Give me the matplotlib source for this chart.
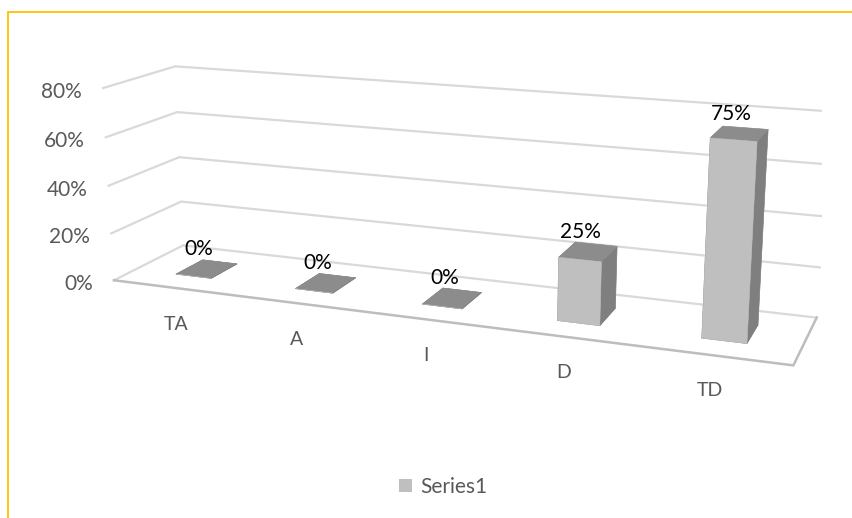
import numpy as np
import matplotlib
matplotlib.use('Agg')
import matplotlib.pyplot as plt
from matplotlib.patches import Rectangle, Patch
from matplotlib.transforms import offset_copy

# survey answers, share of responses per option
categories = ['TA', 'A', 'I', 'D', 'TD']
values = [0.0, 0.0, 0.0, 0.25, 0.75]
data_labels = ['0%', '0%', '0%', '25%', '75%']
value_ticks = [0.0, 0.2, 0.4, 0.6, 0.8]
tick_labels = ['0%', '20%', '40%', '60%', '80%']
series_name = 'Series1'

plt.rcParams['font.family'] = ['Lato', 'DejaVu Sans']

gray_txt = '#595959'
grid_col = '#D9D9D9'
front_col = '#BFBFBF'
top_col = '#8C8C8C'
side_col = '#7F7F7F'

fig = plt.figure(figsize=(8.52, 5.18), dpi=100)
ax = fig.add_axes([0.0728, -0.1402, 0.892, 1.467], projection='3d',
                  computed_zorder=False)

n = len(categories)
xs = np.arange(n)
depth = 1.0      # floor depth
bw, bd = 0.3, 0.4  # bar width / depth
zmax = value_ticks[-1]
x0, x1 = -0.5, n - 0.5

def shifted(dx, dy):
    # labels sit a fixed number of pixels away from their anchor point
    return offset_copy(ax.transData, fig=fig, x=dx, y=dy, units='dots')

# walls: gridlines on the left side wall and back wall
for v in value_ticks[1:]:
    ax.plot([x0, x0, x1], [0, depth, depth], [v, v, v],
            color=grid_col, lw=1.6, zorder=1)
# floor
ax.plot([x0, x0, x1], [0, depth, depth], [0, 0, 0], color=grid_col, lw=1.6, zorder=1)
ax.plot([x0, x1, x1], [0, 0, depth], [0, 0, 0], color='#BDBDBD', lw=1.8, zorder=1)

# bars: face order bottom, top, front, back, left, right
faces = [top_col, top_col, front_col, front_col, side_col, side_col]
ax.bar3d(xs - bw / 2, np.full(n, (depth - bd) / 2), np.zeros(n),
         bw, bd, values, color=faces * n, edgecolors=faces * n,
         linewidth=0.4, shade=False, zorder=3)

# value labels on top of bars
for x, v, lab in zip(xs, values, data_labels):
    ax.text(x, depth / 2, v, lab, ha='center', va='center',
            fontsize=15, color='black', zorder=5, transform=shifted(-8, 20))

# value axis labels
for v, lab in zip(value_ticks, tick_labels):
    ax.text(x0, 0, v, lab, ha='right', va='center', fontsize=15,
            color=gray_txt, transform=shifted(-21, -4))

# category labels
for x, lab in zip(xs, categories):
    ax.text(x, 0.2, 0, lab, ha='center', va='center', fontsize=14,
            color=gray_txt, transform=shifted(-11, -45))

ax.set_xlim(x0, x1)
ax.set_ylim(0, depth)
ax.set_zlim(0, zmax)
ax.set_xticks([])
ax.set_yticks([])
ax.set_zticks([])
ax.set_box_aspect((x1 - x0, depth, 1.81 * zmax), zoom=0.961)
ax.set_proj_type('persp', focal_length=0.38)
ax.view_init(elev=14.5, azim=-69)
ax.set_axis_off()

handle = Patch(facecolor=front_col, edgecolor='none', label=series_name)
fig.legend(handles=[handle], loc='center', bbox_to_anchor=(0.52, 0.06),
           frameon=False, fontsize=15, labelcolor=gray_txt,
           handlelength=0.6, handleheight=0.6, handletextpad=0.4)

# chart area border
fig.add_artist(Rectangle((0.0094, -0.1), 1.2, 1.0768, transform=fig.transFigure,
                         fill=False, edgecolor='#FFC000', lw=1.3))

fig.savefig('out.png', dpi=100)
